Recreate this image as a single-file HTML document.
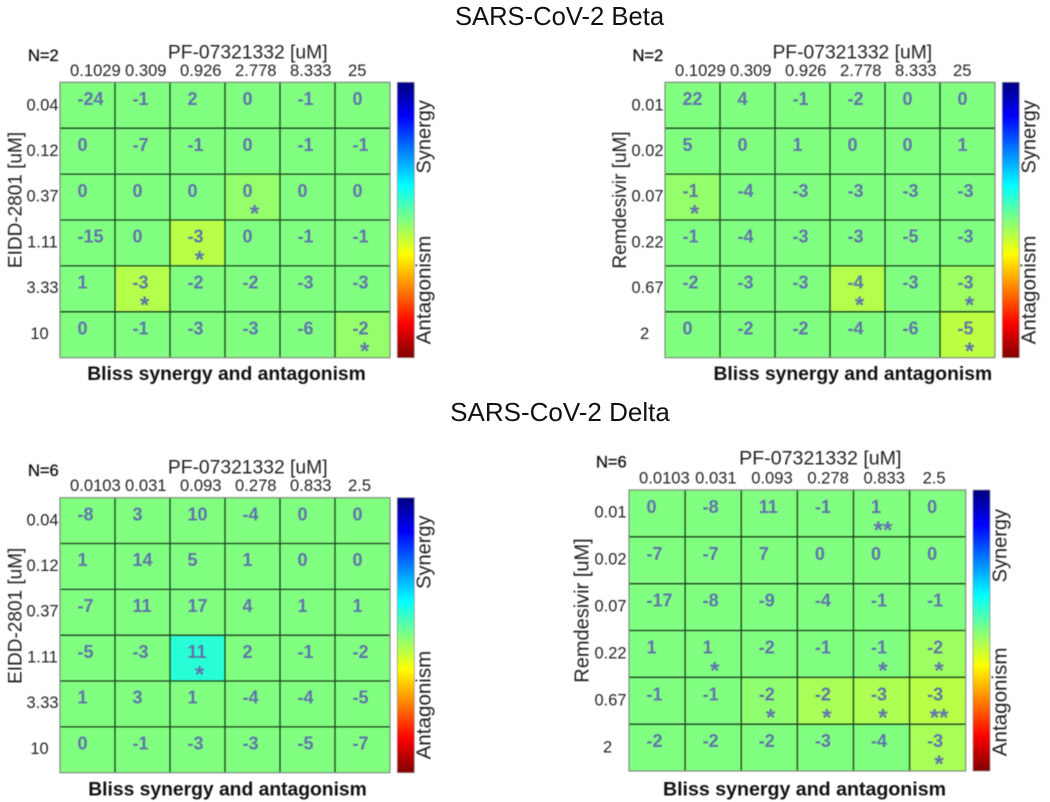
<!DOCTYPE html>
<html lang="en">
<head>
<meta charset="utf-8">
<title>SARS-CoV-2 Bliss synergy and antagonism</title>
<style>
html,body{margin:0;padding:0;background:#fff;}
svg{display:block;font-family:"Liberation Sans",sans-serif;}
#plots{filter:blur(0.45px);}
</style>
</head>
<body>
<svg id="chart" xmlns="http://www.w3.org/2000/svg" width="1050" height="802" viewBox="0 0 1050 802">
  <defs>
    <linearGradient id="jet-gradient" x1="0" y1="0" x2="0" y2="1"></linearGradient>
  </defs>
  <rect x="0" y="0" width="1050" height="802" fill="#ffffff"/>
  <text x="559.5" y="25" text-anchor="middle" font-size="25.6" fill="#111">SARS-CoV-2 Beta</text>
  <text x="560" y="421" text-anchor="middle" font-size="26" fill="#111">SARS-CoV-2 Delta</text>
  <g id="plots"></g>
</svg>
<script>
// ---- Shared tick labels ----
const betaDoses = ["0.1029", "0.309", "0.926", "2.778", "8.333", "25"];
const deltaDoses = ["0.0103", "0.031", "0.093", "0.278", "0.833", "2.5"];
const eiddDoses = ["0.04", "0.12", "0.37", "1.11", "3.33", "10"];
const remdesivirDoses = ["0.01", "0.02", "0.07", "0.22", "0.67", "2"];

// ---- Beta + EIDD-2801 ----
const betaEiddValues = [
  [-24, -1, 2, 0, -1, 0],
  [0, -7, -1, 0, -1, -1],
  [0, 0, 0, 0, 0, 0],
  [-15, 0, -3, 0, -1, -1],
  [1, -3, -2, -2, -3, -3],
  [0, -1, -3, -3, -6, -2]
];
const betaEiddStars = [
  [0, 0, 0, 0, 0, 0],
  [0, 0, 0, 0, 0, 0],
  [0, 0, 0, 1, 0, 0],
  [0, 0, 1, 0, 0, 0],
  [0, 1, 0, 0, 0, 0],
  [0, 0, 0, 0, 0, 1]
];
const betaEiddHeat = [
  [0, 0, 0, 0, 0, 0],
  [0, 0, 0, 0, 0, 0],
  [0, 0, 0, -2, 0, 0],
  [0, 0, -5.5, 0, 0, 0],
  [0, -5, 0, 0, 0, 0],
  [0, 0, 0, 0, 0, -2]
];

// ---- Beta + Remdesivir ----
const betaRemdesivirValues = [
  [22, 4, -1, -2, 0, 0],
  [5, 0, 1, 0, 0, 1],
  [-1, -4, -3, -3, -3, -3],
  [-1, -4, -3, -3, -5, -3],
  [-2, -3, -3, -4, -3, -3],
  [0, -2, -2, -4, -6, -5]
];
const betaRemdesivirStars = [
  [0, 0, 0, 0, 0, 0],
  [0, 0, 0, 0, 0, 0],
  [1, 0, 0, 0, 0, 0],
  [0, 0, 0, 0, 0, 0],
  [0, 0, 0, 1, 0, 1],
  [0, 0, 0, 0, 0, 1]
];
const betaRemdesivirHeat = [
  [0, 0, 0, 0, 0, 0],
  [0, 0, 0, 0, 0, 0],
  [-2, 0, 0, 0, 0, 0],
  [0, 0, 0, 0, 0, 0],
  [0, 0, 0, -5, 0, -3],
  [0, 0, 0, 0, 0, -6]
];

// ---- Delta + EIDD-2801 ----
const deltaEiddValues = [
  [-8, 3, 10, -4, 0, 0],
  [1, 14, 5, 1, 0, 0],
  [-7, 11, 17, 4, 1, 1],
  [-5, -3, 11, 2, -1, -2],
  [1, 3, 1, -4, -4, -5],
  [0, -1, -3, -3, -5, -7]
];
const deltaEiddStars = [
  [0, 0, 0, 0, 0, 0],
  [0, 0, 0, 0, 0, 0],
  [0, 0, 0, 0, 0, 0],
  [0, 0, 1, 0, 0, 0],
  [0, 0, 0, 0, 0, 0],
  [0, 0, 0, 0, 0, 0]
];
const deltaEiddHeat = [
  [0, 0, 0, 0, 0, 0],
  [0, 0, 0, 0, 0, 0],
  [0, 0, 0, 0, 0, 0],
  [0, 0, 8.5, 0, 0, 0],
  [0, 0, 0, 0, 0, 0],
  [0, 0, 0, 0, 0, 0]
];

// ---- Delta + Remdesivir ----
const deltaRemdesivirValues = [
  [0, -8, 11, -1, 1, 0],
  [-7, -7, 7, 0, 0, 0],
  [-17, -8, -9, -4, -1, -1],
  [1, 1, -2, -1, -1, -2],
  [-1, -1, -2, -2, -3, -3],
  [-2, -2, -2, -3, -4, -3]
];
const deltaRemdesivirStars = [
  [0, 0, 0, 0, 2, 0],
  [0, 0, 0, 0, 0, 0],
  [0, 0, 0, 0, 0, 0],
  [0, 1, 0, 0, 1, 1],
  [0, 0, 1, 1, 1, 2],
  [0, 0, 0, 0, 0, 1]
];
const deltaRemdesivirHeat = [
  [0, 0, 0, 0, 0, 0],
  [0, 0, 0, 0, 0, 0],
  [0, 0, 0, 0, 0, 0],
  [0, 0, 0, 0, 0, -3],
  [0, 0, -1.5, -4, -4.5, -5.5],
  [0, 0, 0, 0, 0, -4]
];

const SVG_NS = "http://www.w3.org/2000/svg";
const plots = document.getElementById("plots");

function make(tag, attrs, parent, content) {
  const el = document.createElementNS(SVG_NS, tag);
  for (const k in attrs) el.setAttribute(k, attrs[k]);
  if (content !== undefined) el.textContent = content;
  parent.appendChild(el);
  return el;
}

// Jet colour map, t in 0..1
function jet(t) {
  const c = v => Math.round(255 * Math.max(0, Math.min(1, v)));
  return "rgb(" + c(1.5 - Math.abs(4 * t - 3)) + "," + c(1.5 - Math.abs(4 * t - 2)) + "," + c(1.5 - Math.abs(4 * t - 1)) + ")";
}
// Heat score -> colour: top of the colour bar (blue) is synergy at +50
function colorScale(score) {
  return jet(0.5 - score / 100);
}

const gradient = document.getElementById("jet-gradient");
for (let i = 0; i <= 16; i++) {
  make("stop", { offset: (i / 16), "stop-color": jet(i / 16) }, gradient);
}

function drawPanel(p) {
  const g = make("g", {}, plots);
  
  

  const nCols = p.colLabels.length;
  const nRows = p.rowLabels.length;
  const cw = p.w / nCols;
  const rh = p.h / nRows;
  const xScale = c => p.x + c * cw;
  const yScale = r => p.y + r * rh;

  // cells
  for (let r = 0; r < nRows; r++) {
    for (let c = 0; c < nCols; c++) {
      const cell = make("rect", { x: xScale(c), y: yScale(r), width: cw, height: rh, fill: colorScale(p.heat[r][c]) }, g);
      
      
    }
  }
  // grid lines
  for (let c = 1; c < nCols; c++) {
    const gl = make("line", { x1: xScale(c), x2: xScale(c), y1: p.y, y2: p.y + p.h, stroke: "#1d401f", "stroke-width": 1.3 }, g);
    
    
  }
  for (let r = 1; r < nRows; r++) {
    const gl = make("line", { x1: p.x, x2: p.x + p.w, y1: yScale(r), y2: yScale(r), stroke: "#1d401f", "stroke-width": 1.3 }, g);
    
    
  }
  const frame = make("rect", { x: p.x, y: p.y, width: p.w, height: p.h, fill: "none", stroke: "#7d8c7d", "stroke-width": 1.2 }, g);
  
  

  // printed values and significance stars
  for (let r = 0; r < nRows; r++) {
    for (let c = 0; c < nCols; c++) {
      const val = make("text", { x: xScale(c) + 17.5, y: yScale(r) + rh * 0.355 + 6.4, "font-size": 18, "font-weight": "bold", fill: "#6074ac" }, g, String(p.values[r][c]));
      
      
      if (p.stars[r][c] > 0) {
        const st = make("text", { x: xScale(c) + 29.5, y: yScale(r) + rh * 0.77 + 12, "text-anchor": "middle", "font-size": 24, "font-weight": "bold", fill: "#6074ac" }, g, "*".repeat(p.stars[r][c]));
        
        
      }
    }
  }

  // column ticks
  p.colLabels.forEach((label, c) => {
    const t = make("text", { x: xScale(c) + (c === nCols - 1 ? 13 : 10), y: p.colTickY + 6, "font-size": 16.6, fill: "#222" }, g, label);
    
    
  });
  // row ticks
  p.rowLabels.forEach((label, r) => {
    const t = make("text", { x: p.rowTickX - (r === nRows - 1 ? 3 : 0), y: p.rowTickY + r * p.rowTickStep + 6, "text-anchor": "middle", "font-size": 16.4, fill: "#222" }, g, label);
    
    
  });

  // titles
  const top = make("text", { x: p.topX, y: p.topY + 7, "text-anchor": "middle", "font-size": p.topSize, fill: "#222" }, g, "PF-07321332 [uM]");
  
  

  const n = make("text", { x: p.nX, y: p.nY + 6, "font-size": 16.5, fill: "#111", stroke: "#111", "stroke-width": 0.3 }, g, p.nLabel);
  
  

  const yT = make("text", { transform: "translate(" + p.yTitleX + "," + p.yTitleY + ") rotate(-90)", "text-anchor": "middle", "font-size": p.yTitleSize, fill: "#222" }, g, p.yTitle);
  
  

  const bl = make("text", { x: p.blissX, y: p.blissY + 7, "text-anchor": "middle", "font-size": p.blissSize, "font-weight": "bold", fill: "#111" }, g, "Bliss synergy and antagonism");
  
  

  // colour bar
  const cb = make("rect", { x: p.cbX, y: p.y, width: 17, height: p.h, fill: "url(#jet-gradient)", stroke: "#999", "stroke-width": 0.8 }, g);
  
  

  const syn = make("text", { transform: "translate(" + p.cbLabelX + "," + (p.y + p.h * 0.198) + ") rotate(-90)", "text-anchor": "middle", "font-size": 20, fill: "#222" }, g, "Synergy");
  
  

  const ant = make("text", { transform: "translate(" + p.cbLabelX + "," + (p.y + p.h * 0.754) + ") rotate(-90)", "text-anchor": "middle", "font-size": 20.6, fill: "#222" }, g, "Antagonism");
  
  
}

drawPanel({
  name: "beta-eidd-panel", x: 60, y: 82.3, w: 330, h: 275.4,
  colLabels: betaDoses, rowLabels: eiddDoses,
  values: betaEiddValues, stars: betaEiddStars, heat: betaEiddHeat,
  colTickY: 70, rowTickX: 42.5, rowTickY: 104.3, rowTickStep: 45.7,
  topX: 247.7, topY: 51.7, topSize: 19.3,
  nX: 28, nY: 55, nLabel: "N=2",
  yTitle: "EIDD-2801 [uM]", yTitleX: 21.5, yTitleY: 200, yTitleSize: 19,
  blissX: 226.5, blissY: 373, blissSize: 19.3,
  cbX: 397.3, cbLabelX: 430.7
});
drawPanel({
  name: "beta-remdesivir-panel", x: 665, y: 82.3, w: 330, h: 275.4,
  colLabels: betaDoses, rowLabels: remdesivirDoses,
  values: betaRemdesivirValues, stars: betaRemdesivirStars, heat: betaRemdesivirHeat,
  colTickY: 70, rowTickX: 647.5, rowTickY: 104.3, rowTickStep: 45.7,
  topX: 852.3, topY: 51.7, topSize: 19.3,
  nX: 632.5, nY: 55, nLabel: "N=2",
  yTitle: "Remdesivir [uM]", yTitleX: 626, yTitleY: 200, yTitleSize: 19,
  blissX: 852.8, blissY: 373, blissSize: 19.3,
  cbX: 1002.3, cbLabelX: 1035.5
});
drawPanel({
  name: "delta-eidd-panel", x: 60, y: 497.7, w: 330, h: 275,
  colLabels: deltaDoses, rowLabels: eiddDoses,
  values: deltaEiddValues, stars: deltaEiddStars, heat: deltaEiddHeat,
  colTickY: 485, rowTickX: 42.5, rowTickY: 519.3, rowTickStep: 45.7,
  topX: 247.7, topY: 466.7, topSize: 19.3,
  nX: 28, nY: 470, nLabel: "N=6",
  yTitle: "EIDD-2801 [uM]", yTitleX: 21.5, yTitleY: 615.8, yTitleSize: 19,
  blissX: 227.5, blissY: 788.3, blissSize: 19.3,
  cbX: 397.3, cbLabelX: 430.7
});
drawPanel({
  name: "delta-remdesivir-panel", x: 629, y: 490, w: 336.7, h: 281,
  colLabels: deltaDoses, rowLabels: remdesivirDoses,
  values: deltaRemdesivirValues, stars: deltaRemdesivirStars, heat: deltaRemdesivirHeat,
  colTickY: 477.3, rowTickX: 610.5, rowTickY: 511.7, rowTickStep: 47,
  topX: 820.3, topY: 457.3, topSize: 19.6,
  nX: 596, nY: 461.7, nLabel: "N=6",
  yTitle: "Remdesivir [uM]", yTitleX: 588.3, yTitleY: 610.5, yTitleSize: 20,
  blissX: 804.5, blissY: 788.3, blissSize: 19.6,
  cbX: 973, cbLabelX: 1006.7
});
</script>
</body>
</html>
